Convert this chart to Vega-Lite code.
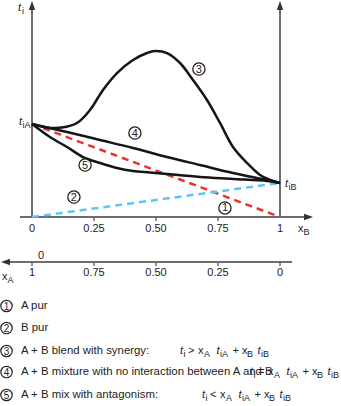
{
  "$schema": "https://vega.github.io/schema/vega-lite/v6.json",
  "width": 341,
  "height": 406,
  "autosize": {"type": "none"},
  "padding": 0,
  "background": "white",
  "config": {"view": {"stroke": null}, "text": {"font": "Liberation Sans", "color": "#222"}},
  "datasets": {
    "axes": [
      {"x": 0, "y": 0, "x2": 0, "y2": 2.25},
      {"x": 1, "y": 0, "x2": 1, "y2": 2.25},
      {"x": -0.0484, "y": 0, "x2": 1.11, "y2": 0},
      {"x": -0.1, "y": -0.484, "x2": 1.0484, "y2": -0.484}
    ],
    "ticks": [
      {"x": 0.25, "y": 0, "x2": 0.25, "y2": -0.043},
      {"x": 0.5, "y": 0, "x2": 0.5, "y2": -0.043},
      {"x": 0.75, "y": 0, "x2": 0.75, "y2": -0.043},
      {"x": 0, "y": -0.484, "x2": 0, "y2": -0.527},
      {"x": 0.25, "y": -0.484, "x2": 0.25, "y2": -0.527},
      {"x": 0.5, "y": -0.484, "x2": 0.5, "y2": -0.527},
      {"x": 0.75, "y": -0.484, "x2": 0.75, "y2": -0.527},
      {"x": 1, "y": -0.484, "x2": 1, "y2": -0.527}
    ],
    "arrows": [
      {"x": 0, "y": 2.3226, "dir": "up"},
      {"x": 1, "y": 2.3226, "dir": "up"},
      {"x": 1.1331, "y": 0, "dir": "right"},
      {"x": -0.125, "y": -0.484, "dir": "left"}
    ],
    "pure": [
      {"s": "A", "x": 0, "y": 1.0},
      {"s": "A", "x": 1, "y": 0},
      {"s": "B", "x": 0, "y": 0},
      {"s": "B", "x": 1, "y": 0.366}
    ],
    "curves": [
      {"c": 3, "x": 0, "y": 1.0},
      {"c": 3, "x": 0.06, "y": 0.963},
      {"c": 3, "x": 0.12, "y": 0.962},
      {"c": 3, "x": 0.1815, "y": 1.011},
      {"c": 3, "x": 0.2339, "y": 1.151},
      {"c": 3, "x": 0.2863, "y": 1.366},
      {"c": 3, "x": 0.3427, "y": 1.548},
      {"c": 3, "x": 0.4073, "y": 1.688},
      {"c": 3, "x": 0.4637, "y": 1.763},
      {"c": 3, "x": 0.496, "y": 1.785},
      {"c": 3, "x": 0.5444, "y": 1.763},
      {"c": 3, "x": 0.5968, "y": 1.656},
      {"c": 3, "x": 0.6492, "y": 1.473},
      {"c": 3, "x": 0.7056, "y": 1.258},
      {"c": 3, "x": 0.7581, "y": 1.011},
      {"c": 3, "x": 0.8105, "y": 0.753},
      {"c": 3, "x": 0.8669, "y": 0.581},
      {"c": 3, "x": 0.9194, "y": 0.452},
      {"c": 3, "x": 0.9597, "y": 0.398},
      {"c": 3, "x": 1.0, "y": 0.366},
      {"c": 4, "x": 0, "y": 1.0},
      {"c": 4, "x": 0.1411, "y": 0.914},
      {"c": 4, "x": 0.2742, "y": 0.828},
      {"c": 4, "x": 0.4073, "y": 0.742},
      {"c": 4, "x": 0.5444, "y": 0.645},
      {"c": 4, "x": 0.6774, "y": 0.559},
      {"c": 4, "x": 0.8105, "y": 0.473},
      {"c": 4, "x": 0.9476, "y": 0.398},
      {"c": 4, "x": 1.0, "y": 0.366},
      {"c": 5, "x": 0, "y": 1.0},
      {"c": 5, "x": 0.0726, "y": 0.86},
      {"c": 5, "x": 0.1411, "y": 0.753},
      {"c": 5, "x": 0.2056, "y": 0.645},
      {"c": 5, "x": 0.2742, "y": 0.581},
      {"c": 5, "x": 0.3427, "y": 0.527},
      {"c": 5, "x": 0.4073, "y": 0.495},
      {"c": 5, "x": 0.4758, "y": 0.479},
      {"c": 5, "x": 0.5444, "y": 0.462},
      {"c": 5, "x": 0.6774, "y": 0.43},
      {"c": 5, "x": 0.8105, "y": 0.409},
      {"c": 5, "x": 0.9476, "y": 0.387},
      {"c": 5, "x": 1.0, "y": 0.366}
    ],
    "circles": [
      {"n": "1", "place": "plot", "x": 0.778, "y": 0.097},
      {"n": "2", "place": "plot", "x": 0.169, "y": 0.215},
      {"n": "3", "place": "plot", "x": 0.673, "y": 1.591},
      {"n": "4", "place": "plot", "x": 0.415, "y": 0.903},
      {"n": "5", "place": "plot", "x": 0.214, "y": 0.559},
      {"n": "1", "place": "legend", "x": -0.1028, "y": -0.957},
      {"n": "2", "place": "legend", "x": -0.1028, "y": -1.194},
      {"n": "3", "place": "legend", "x": -0.1028, "y": -1.441},
      {"n": "4", "place": "legend", "x": -0.1028, "y": -1.667},
      {"n": "5", "place": "legend", "x": -0.1028, "y": -1.914}
    ],
    "labels": [
      {"kind": "tick", "text": "0", "x": 0, "y": -0.129},
      {"kind": "tick", "text": "0.25", "x": 0.25, "y": -0.129},
      {"kind": "tick", "text": "0.50", "x": 0.5, "y": -0.129},
      {"kind": "tick", "text": "0.75", "x": 0.75, "y": -0.129},
      {"kind": "tick", "text": "1", "x": 1, "y": -0.129},
      {"kind": "tick", "text": "1", "x": 0, "y": -0.602},
      {"kind": "tick", "text": "0.75", "x": 0.25, "y": -0.602},
      {"kind": "tick", "text": "0.50", "x": 0.5, "y": -0.602},
      {"kind": "tick", "text": "0.25", "x": 0.75, "y": -0.602},
      {"kind": "tick", "text": "0", "x": 1, "y": -0.602},
      {"kind": "tick", "text": "0", "x": 0.0363, "y": -0.419},

      {"kind": "ital", "text": "t", "x": -0.0565, "y": 2.247},
      {"kind": "sub", "text": "i", "x": -0.0403, "y": 2.247},
      {"kind": "ital", "text": "t", "x": -0.0524, "y": 1.0215},
      {"kind": "sub", "text": "iA", "x": -0.0383, "y": 1.0215},
      {"kind": "ital", "text": "t", "x": 1.0202, "y": 0.3548},
      {"kind": "sub", "text": "iB", "x": 1.0343, "y": 0.3548},
      {"kind": "base", "text": "x", "x": 1.0726, "y": -0.129},
      {"kind": "sub", "text": "B", "x": 1.0948, "y": -0.129},
      {"kind": "base", "text": "x", "x": -0.121, "y": -0.645},
      {"kind": "sub", "text": "A", "x": -0.0988, "y": -0.645},

      {"kind": "legend", "text": "A pur", "x": -0.0444, "y": -0.957},
      {"kind": "legend", "text": "B pur", "x": -0.0444, "y": -1.194},
      {"kind": "legend", "text": "A + B blend with synergy:", "x": -0.0444, "y": -1.441},
      {"kind": "legend", "text": "A + B mixture with no interaction between A and B", "x": -0.0444, "y": -1.667},
      {"kind": "legend", "text": "A + B mix with antagonism:", "x": -0.0444, "y": -1.914},

      {"kind": "ital", "text": "t", "x": 0.5968, "y": -1.441},
      {"kind": "sub", "text": "i", "x": 0.6109, "y": -1.441},
      {"kind": "base", "text": ">", "x": 0.629, "y": -1.441},
      {"kind": "base", "text": "x", "x": 0.6694, "y": -1.441},
      {"kind": "sub", "text": "A", "x": 0.6935, "y": -1.441},
      {"kind": "ital", "text": "t", "x": 0.744, "y": -1.441},
      {"kind": "sub", "text": "iA", "x": 0.7581, "y": -1.441},
      {"kind": "base", "text": "+", "x": 0.8085, "y": -1.441},
      {"kind": "base", "text": "x", "x": 0.8468, "y": -1.441},
      {"kind": "sub", "text": "B", "x": 0.8669, "y": -1.441},
      {"kind": "ital", "text": "t", "x": 0.9093, "y": -1.441},
      {"kind": "sub", "text": "iB", "x": 0.9234, "y": -1.441},

      {"kind": "ital", "text": "t", "x": 0.879, "y": -1.667},
      {"kind": "sub", "text": "i", "x": 0.8931, "y": -1.667},
      {"kind": "base", "text": "=", "x": 0.9113, "y": -1.667},
      {"kind": "base", "text": "x", "x": 0.9516, "y": -1.667},
      {"kind": "sub", "text": "A", "x": 0.9758, "y": -1.667},
      {"kind": "ital", "text": "t", "x": 1.0262, "y": -1.667},
      {"kind": "sub", "text": "iA", "x": 1.0403, "y": -1.667},
      {"kind": "base", "text": "+", "x": 1.0907, "y": -1.667},
      {"kind": "base", "text": "x", "x": 1.129, "y": -1.667},
      {"kind": "sub", "text": "B", "x": 1.1492, "y": -1.667},
      {"kind": "ital", "text": "t", "x": 1.1915, "y": -1.667},
      {"kind": "sub", "text": "iB", "x": 1.2056, "y": -1.667},

      {"kind": "ital", "text": "t", "x": 0.6855, "y": -1.914},
      {"kind": "sub", "text": "i", "x": 0.6996, "y": -1.914},
      {"kind": "base", "text": "<", "x": 0.7177, "y": -1.914},
      {"kind": "base", "text": "x", "x": 0.7581, "y": -1.914},
      {"kind": "sub", "text": "A", "x": 0.7823, "y": -1.914},
      {"kind": "ital", "text": "t", "x": 0.8327, "y": -1.914},
      {"kind": "sub", "text": "iA", "x": 0.8468, "y": -1.914},
      {"kind": "base", "text": "+", "x": 0.8972, "y": -1.914},
      {"kind": "base", "text": "x", "x": 0.9355, "y": -1.914},
      {"kind": "sub", "text": "B", "x": 0.9556, "y": -1.914},
      {"kind": "ital", "text": "t", "x": 0.998, "y": -1.914},
      {"kind": "sub", "text": "iB", "x": 1.0121, "y": -1.914}
    ]
  },
  "encoding": {
    "x": {"field": "x", "type": "quantitative", "scale": {"domain": [-0.12903, 1.24597], "nice": false, "zero": false}, "axis": null},
    "y": {"field": "y", "type": "quantitative", "scale": {"domain": [-2.03226, 2.33333], "nice": false, "zero": false}, "axis": null}
  },
  "layer": [
    {
      "data": {"name": "axes"},
      "mark": {"type": "rule", "color": "#6e6e6e", "strokeWidth": 2},
      "encoding": {"x2": {"field": "x2"}, "y2": {"field": "y2"}}
    },
    {
      "data": {"name": "ticks"},
      "mark": {"type": "rule", "color": "#6e6e6e", "strokeWidth": 1.5},
      "encoding": {"x2": {"field": "x2"}, "y2": {"field": "y2"}}
    },
    {
      "data": {"name": "arrows"},
      "mark": {"type": "point", "filled": true, "color": "#333", "size": 81, "opacity": 1},
      "encoding": {
        "shape": {"field": "dir", "type": "nominal", "scale": {"domain": ["up", "left", "right"], "range": ["M0,0L0.7,2L-0.7,2Z", "M0,0L2,-0.7L2,0.7Z", "M0,0L-2,-0.7L-2,0.7Z"]}, "legend": null}
      }
    },
    {
      "data": {"name": "pure"},
      "mark": {"type": "line", "strokeDash": [7, 5], "strokeWidth": 2.5},
      "encoding": {
        "color": {"field": "s", "type": "nominal", "scale": {"domain": ["A", "B"], "range": ["#e8322b", "#5ec4f0"]}, "legend": null}
      }
    },
    {
      "data": {"name": "curves"},
      "mark": {"type": "line", "color": "#151515", "strokeWidth": 2.5, "interpolate": "catmull-rom"},
      "encoding": {"detail": {"field": "c", "type": "nominal"}}
    },
    {
      "data": {"name": "circles"},
      "transform": [{"filter": "datum.place === 'plot'"}],
      "mark": {"type": "point", "shape": "circle", "filled": true, "fill": "white", "stroke": "#222", "strokeWidth": 1.3, "size": 150, "opacity": 1}
    },
    {
      "data": {"name": "circles"},
      "transform": [{"filter": "datum.place === 'legend'"}],
      "mark": {"type": "point", "shape": "circle", "filled": true, "fill": "white", "stroke": "#222", "strokeWidth": 1.2, "size": 130, "opacity": 1}
    },
    {
      "data": {"name": "circles"},
      "transform": [{"filter": "datum.place === 'plot'"}],
      "mark": {"type": "text", "fontSize": 11, "align": "center", "baseline": "middle", "dy": 0.5},
      "encoding": {"text": {"field": "n"}}
    },
    {
      "data": {"name": "circles"},
      "transform": [{"filter": "datum.place === 'legend'"}],
      "mark": {"type": "text", "fontSize": 10, "align": "center", "baseline": "middle", "dy": 0.5},
      "encoding": {"text": {"field": "n"}}
    },
    {
      "data": {"name": "labels"},
      "transform": [{"filter": "datum.kind === 'tick'"}],
      "mark": {"type": "text", "fontSize": 11, "align": "center", "baseline": "middle"},
      "encoding": {"text": {"field": "text"}}
    },
    {
      "data": {"name": "labels"},
      "transform": [{"filter": "datum.kind === 'legend'"}],
      "mark": {"type": "text", "fontSize": 11.4, "align": "left", "baseline": "middle"},
      "encoding": {"text": {"field": "text"}}
    },
    {
      "data": {"name": "labels"},
      "transform": [{"filter": "datum.kind === 'base'"}],
      "mark": {"type": "text", "fontSize": 11, "align": "left", "baseline": "middle"},
      "encoding": {"text": {"field": "text"}}
    },
    {
      "data": {"name": "labels"},
      "transform": [{"filter": "datum.kind === 'ital'"}],
      "mark": {"type": "text", "fontSize": 11, "fontStyle": "italic", "align": "left", "baseline": "middle"},
      "encoding": {"text": {"field": "text"}}
    },
    {
      "data": {"name": "labels"},
      "transform": [{"filter": "datum.kind === 'sub'"}],
      "mark": {"type": "text", "fontSize": 9, "align": "left", "baseline": "middle", "dy": 3},
      "encoding": {"text": {"field": "text"}}
    }
  ]
}
